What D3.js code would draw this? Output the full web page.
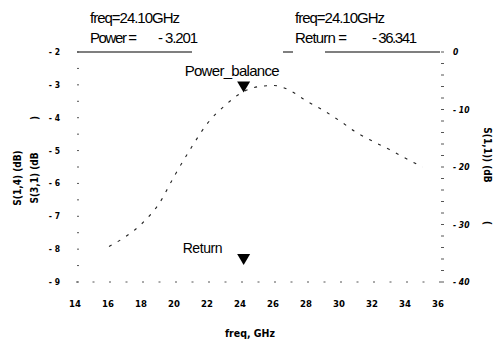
<!DOCTYPE html>
<html>
<head>
<meta charset="utf-8">
<script src="https://cdn.jsdelivr.net/npm/d3@7"></script>
<style>
  body { margin: 0; background: #fff; }
  .tick-lbl { font-family: "DejaVu Sans Condensed", "DejaVu Sans", sans-serif; font-weight: bold; fill: #000; }
  .head { font-family: "Liberation Sans Narrow", "Arial Narrow", "Liberation Sans", sans-serif; }
</style>
</head>
<body>
<div id="canvas"></div>
<script>
// data
const freq = [16, 17, 18, 19, 20, 21, 22, 23, 24, 25, 26, 27, 28, 29, 30, 31, 32, 33, 34, 35];
const powerBalance = [-7.92, -7.62, -7.22, -6.64, -5.74, -4.9, -4.15, -3.64, -3.25, -3.06, -3.02, -3.18, -3.5, -3.78, -4.1, -4.45, -4.72, -4.97, -5.24, -5.5];
const xTicks = [14, 16, 18, 20, 22, 24, 26, 28, 30, 32, 34, 36];
const leftTicks = [-2, -3, -4, -5, -6, -7, -8, -9];
const rightTicks = [0, -10, -20, -30, -40];
const markerFreq = 24.10;
const markerPower = -3.201;
const markerReturn = -36.341;

const width = 499, height = 340;

const svg = d3.select("#canvas").append("svg")
    .attr("width", width)
    .attr("height", height);

const x = d3.scaleLinear().domain([14, 36]).range([76, 439]);
const yL = d3.scaleLinear().domain([-9, -2]).range([282, 52]);
const yR = d3.scaleLinear().domain([-40, 0]).range([282, 52]);

const ink = "#000";

// top frame line (broken in the print)
svg.append("line")
    .attr("x1", x(14) + 1).attr("x2", x(36) + 1)
    .attr("y1", yL(-2)).attr("y2", yL(-2))
    .attr("stroke", ink)
    .attr("stroke-width", 1.2)
    .attr("stroke-dasharray", "115,91,10,32,120");

// left axis: dotted ticks every 0.5 dB
svg.append("g").selectAll("line")
    .data(d3.range(-9, -1.99, 0.5))
    .enter().append("line")
    .attr("x1", x(14) + 1).attr("x2", x(14) + 3)
    .attr("y1", d => yL(d)).attr("y2", d => yL(d))
    .attr("stroke", "#555");

svg.append("g").selectAll("text")
    .data(leftTicks)
    .enter().append("text")
    .attr("class", "tick-lbl")
    .attr("x", 60)
    .attr("y", d => yL(d) + 3)
    .attr("text-anchor", "end")
    .style("font-size", "8.5px")
    .text(d => "- " + Math.abs(d));

// right axis: ticks every 2 dB
svg.append("g").selectAll("line")
    .data(d3.range(-40, 0.1, 2))
    .enter().append("line")
    .attr("x1", x(36) + 2).attr("x2", x(36) + 5)
    .attr("y1", d => yR(d)).attr("y2", d => yR(d))
    .attr("stroke", "#555");

svg.append("g").selectAll("text")
    .data(rightTicks)
    .enter().append("text")
    .attr("class", "tick-lbl")
    .attr("x", 453)
    .attr("y", d => yR(d) + 3)
    .style("font-size", "8.5px")
    .style("font-style", "italic")
    .text(d => d === 0 ? "0" : "- " + Math.abs(d));

// bottom axis: small dotted ticks every 1 GHz
svg.append("g").selectAll("line")
    .data(d3.range(14, 36.1, 1))
    .enter().append("line")
    .attr("x1", d => x(d)).attr("x2", d => x(d) + 2)
    .attr("y1", yL(-9)).attr("y2", yL(-9))
    .attr("stroke", "#555");

svg.append("g").selectAll("text")
    .data(xTicks)
    .enter().append("text")
    .attr("class", "tick-lbl")
    .attr("x", d => x(d) - 1)
    .attr("y", 307)
    .attr("text-anchor", "middle")
    .style("font-size", "9.5px")
    .text(d => d);

// axis titles
svg.append("text")
    .attr("class", "tick-lbl")
    .attr("x", 250).attr("y", 337)
    .attr("text-anchor", "middle")
    .style("font-size", "10.5px")
    .text("freq, GHz");

const leftTitles = [["S(1,4) (dB)", 21], ["S(3,1) (dB", 38]];
leftTitles.forEach(([t, px]) => {
    svg.append("text")
        .attr("class", "tick-lbl")
        .attr("transform", `translate(${px},178) rotate(-90)`)
        .attr("text-anchor", "middle")
        .style("font-size", "10px")
        .text(t);
});
svg.append("text")
    .attr("class", "tick-lbl")
    .attr("transform", "translate(38,118) rotate(-90)")
    .attr("text-anchor", "middle")
    .style("font-size", "10px")
    .text(")");

svg.append("text")
    .attr("class", "tick-lbl")
    .attr("transform", "translate(484,155) rotate(90)")
    .attr("text-anchor", "middle")
    .style("font-size", "10px")
    .text("S(1,1)) (dB");
svg.append("text")
    .attr("class", "tick-lbl")
    .attr("transform", "translate(484,223) rotate(90)")
    .attr("text-anchor", "middle")
    .style("font-size", "10px")
    .text("(");

// power balance curve (sparse dashes, faded print)
const line = d3.line()
    .x((d, i) => x(freq[i]))
    .y(d => yL(d))
    .curve(d3.curveMonotoneX);

svg.append("path")
    .datum(powerBalance)
    .attr("d", line)
    .attr("fill", "none")
    .attr("stroke", "#222")
    .attr("stroke-width", 1.1)
    .attr("stroke-dasharray", "3,7");

// markers
const tri = (cx, tip) => `M${cx - 6.5},${tip - 11}L${cx + 6.5},${tip - 11}L${cx},${tip}Z`;

svg.append("path")
    .attr("d", tri(x(markerFreq) + 1, yL(markerPower) + 1))
    .attr("fill", ink);
svg.append("text")
    .attr("class", "head")
    .attr("x", x(markerFreq) - 58).attr("y", 76)
    .attr("textLength", 95)
    .style("font-size", "15px")
    .attr("fill", ink)
    .text("Power_balance");

svg.append("path")
    .attr("d", tri(x(markerFreq) + 1, yR(markerReturn) + 4))
    .attr("fill", ink);
svg.append("text")
    .attr("class", "head")
    .attr("x", x(markerFreq) - 60).attr("y", 253)
    .attr("textLength", 40)
    .style("font-size", "14px")
    .attr("fill", ink)
    .text("Return");

// header readouts
const readouts = [
    { x: 90, vx: 158, name: "Power =", nameW: 47, val: markerPower, valW: 40 },
    { x: 295, vx: 372, name: "Return =", nameW: 52, val: markerReturn, valW: 45 }
];
readouts.forEach(r => {
    svg.append("text").attr("class", "head")
        .attr("x", r.x).attr("y", 23)
        .attr("textLength", 90)
        .style("font-size", "15px").attr("fill", ink)
        .text("freq=" + markerFreq.toFixed(2) + "GHz");
    svg.append("text").attr("class", "head")
        .attr("x", r.x).attr("y", 43)
        .attr("textLength", r.nameW)
        .style("font-size", "15px").attr("fill", ink)
        .text(r.name);
    svg.append("text").attr("class", "head")
        .attr("x", r.vx).attr("y", 43)
        .attr("textLength", r.valW)
        .style("font-size", "15px").attr("fill", ink)
        .text("- " + Math.abs(r.val).toFixed(3));
});
</script>
</body>
</html>
